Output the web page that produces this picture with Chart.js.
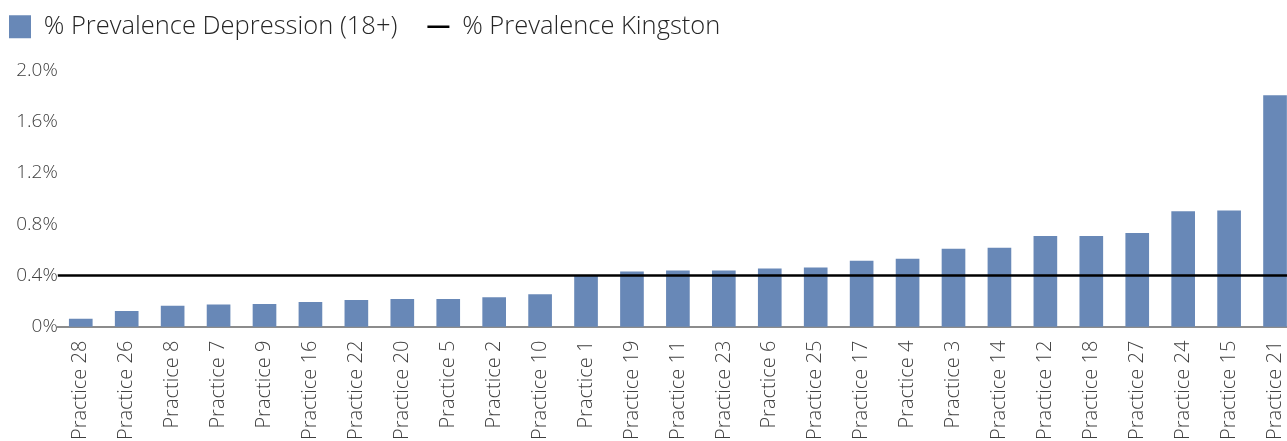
<!DOCTYPE html>
<html>
<head>
<meta charset="utf-8">
<script src="https://cdn.jsdelivr.net/npm/chart.js@4/dist/chart.umd.min.js"></script>
<style>
  html, body { margin: 0; padding: 0; background: #fff; overflow: hidden; }
  #wrap { position: relative; width: 1298px; height: 441px; }
</style>
</head>
<body>
<div id="wrap"><canvas id="myChart"></canvas></div>
<script>
// practices, sorted by prevalence
const practices = ['Practice 28', 'Practice 26', 'Practice 8', 'Practice 7', 'Practice 9', 'Practice 16',
  'Practice 22', 'Practice 20', 'Practice 5', 'Practice 2', 'Practice 10', 'Practice 1', 'Practice 19',
  'Practice 11', 'Practice 23', 'Practice 6', 'Practice 25', 'Practice 17', 'Practice 4', 'Practice 3',
  'Practice 14', 'Practice 12', 'Practice 18', 'Practice 27', 'Practice 24', 'Practice 15', 'Practice 21'];

// % prevalence depression (18+)
const depression = [0.06, 0.12, 0.16, 0.17, 0.175, 0.19, 0.205, 0.213, 0.213, 0.228, 0.25, 0.40, 0.428,
  0.436, 0.436, 0.451, 0.459, 0.513, 0.528, 0.605, 0.613, 0.705, 0.705, 0.728, 0.898, 0.905, 1.805];

// borough average
const kingston = 0.4;

const yTicks = [0, 0.4, 0.8, 1.2, 1.6, 2.0];

const FONT = '"Open Sans", sans-serif';

// extra room under the legend (the usual fit override trick)
const legendFit = {
  id: 'legendFit',
  beforeInit(chart) {
    const fit = chart.legend.fit;
    chart.legend.fit = function () {
      fit.bind(chart.legend)();
      this.height += 21;
    };
  }
};

let ctx = document.getElementById('myChart').getContext('2d');
let chart = new Chart(ctx, {
  type: 'bar',
  data: {
    labels: practices,
    datasets: [{
      label: '% Prevalence Depression (18+)',
      data: depression,
      backgroundColor: '#6888b7',
      borderWidth: 0,
      barThickness: 23,
      grouped: false,
      pointStyle: 'rect',
      order: 1
    }, {
      type: 'line',
      label: '% Prevalence Kingston',
      data: practices.map(() => kingston),
      xAxisID: 'x2',
      borderColor: '#000',
      backgroundColor: '#000',
      borderWidth: 2.5,
      pointRadius: 0,
      pointStyle: 'line',
      order: 0
    }]
  },
  plugins: [legendFit],
  options: {
    responsive: true,
    maintainAspectRatio: false,
    animation: false,
    layout: { padding: { left: -21, top: -16, right: 0, bottom: 0 } },
    plugins: {
      tooltip: { enabled: false },
      legend: {
        position: 'top',
        align: 'start',
        labels: {
          usePointStyle: true,
          pointStyleWidth: 22,
          boxWidth: 23,
          boxHeight: 23,
          padding: 30,
          color: '#262626',
          font: { family: FONT, size: 25.5, weight: '300' },
          sort: (a, b) => a.datasetIndex - b.datasetIndex
        }
      }
    },
    scales: {
      x: {
        offset: true,
        grid: { display: false, drawTicks: false },
        border: { display: true, color: '#8c8c8c', width: 2 },
        ticks: {
          autoSkip: false,
          minRotation: 90,
          maxRotation: 90,
          padding: 14,
          color: '#404040',
          font: { family: FONT, size: 20, weight: '300' }
        },
        afterFit(scale) {
          scale.height = 114.3;
          scale.paddingLeft = 0;
          scale.paddingRight = 0;
        }
      },
      x2: {
        type: 'category',
        labels: practices,
        offset: false,
        display: false
      },
      y: {
        min: 0,
        max: 2.0,
        afterBuildTicks(scale) { scale.ticks = yTicks.map(v => ({ value: v })); },
        grid: { display: false, drawTicks: false },
        border: { display: false },
        ticks: {
          padding: 0,
          color: '#404040',
          font: { family: FONT, size: 19, weight: '300' },
          callback: v => (v === 0 ? '0%' : v.toFixed(1) + '%')
        },
        afterFit(scale) { scale.width = 78.8; }
      }
    }
  }
});
</script>
</body>
</html>
